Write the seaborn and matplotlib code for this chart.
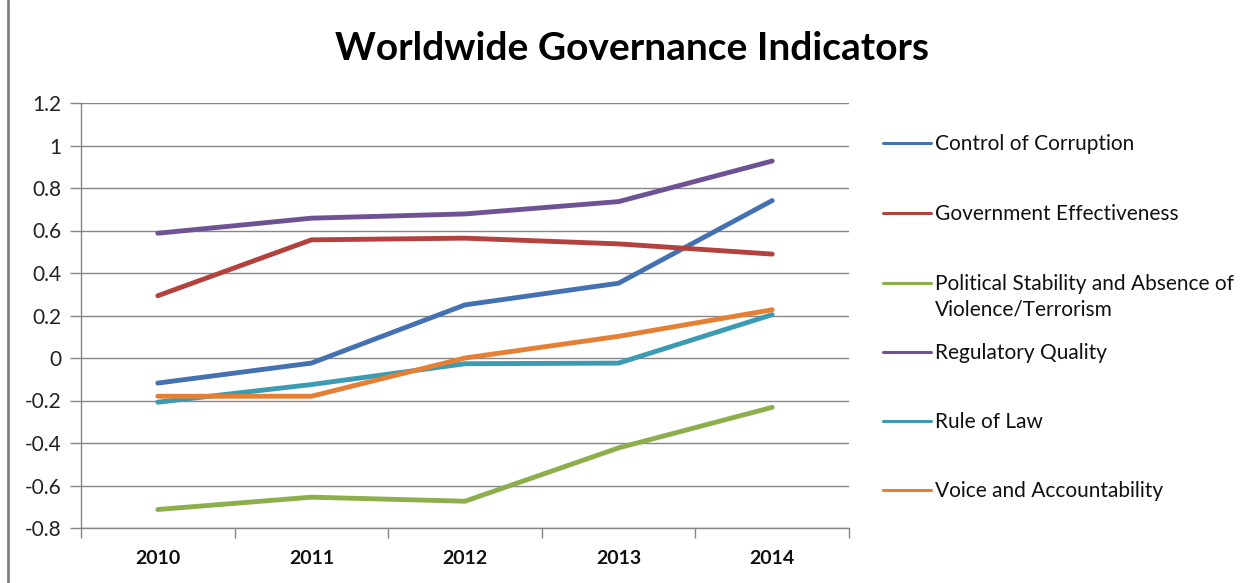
import matplotlib
matplotlib.use("Agg")
import matplotlib.pyplot as plt
from matplotlib.lines import Line2D
import seaborn as sns
import pandas as pd

years = ["2010", "2011", "2012", "2013", "2014"]
indicators = [
    "Control of Corruption",
    "Government Effectiveness",
    "Political Stability and Absence of\nViolence/Terrorism",
    "Regulatory Quality",
    "Rule of Law",
    "Voice and Accountability",
]
control_of_corruption = [-0.118, -0.024, 0.25, 0.352, 0.741]
government_effectiveness = [0.293, 0.556, 0.564, 0.537, 0.489]
political_stability = [-0.713, -0.655, -0.674, -0.423, -0.232]
regulatory_quality = [0.587, 0.658, 0.678, 0.736, 0.927]
rule_of_law = [-0.208, -0.125, -0.027, -0.024, 0.204]
voice_accountability = [-0.18, -0.18, 0.0, 0.102, 0.227]
y_ticks = [-0.8, -0.6, -0.4, -0.2, 0, 0.2, 0.4, 0.6, 0.8, 1, 1.2]
y_tick_labels = ["-0.8", "-0.6", "-0.4", "-0.2", "0", "0.2", "0.4", "0.6", "0.8", "1", "1.2"]

series = [control_of_corruption, government_effectiveness, political_stability,
          regulatory_quality, rule_of_law, voice_accountability]
colors = ["#4472B0", "#B3423F", "#8CAF4B", "#6F5293", "#3B9BB3", "#E47F33"]

rows = []
for name, vals in zip(indicators, series):
    for i, v in enumerate(vals):
        rows.append({"Indicator": name, "xi": i, "value": v})
df = pd.DataFrame(rows)

sns.set_theme(style="white")
plt.rcParams["font.family"] = ["Lato", "DejaVu Sans"]

fig = plt.figure(figsize=(12.55, 5.83), dpi=100)
ax = fig.add_axes([81 / 1255, 1 - 528 / 583, (849 - 81) / 1255, (528 - 103) / 583])

sns.lineplot(data=df, x="xi", y="value", hue="Indicator", hue_order=indicators,
             palette=colors, linewidth=3.5, ax=ax, legend=False)

ax.set_xlim(-0.5, 4.5)
ax.set_ylim(-0.8, 1.2)
ax.set_yticks(y_ticks)
ax.set_yticklabels(y_tick_labels, fontsize=15, color="#222222")
ax.set_xticks(range(len(years)))
ax.set_xticklabels(years, fontsize=14, fontweight="bold", color="#111111")
ax.tick_params(axis="x", length=0, pad=16)
ax.tick_params(axis="y", length=8, width=1, color="#868686", pad=6, left=True)
ax.set_xticks([-0.5, 0.5, 1.5, 2.5, 3.5, 4.5], minor=True)
ax.tick_params(axis="x", which="minor", length=7, width=1, color="#868686", bottom=True)
ax.grid(axis="y", color="#868686", linewidth=1)
ax.set_axisbelow(True)
ax.set_xlabel("")
ax.set_ylabel("")
for s in ["top", "right"]:
    ax.spines[s].set_visible(False)
for s in ["left", "bottom"]:
    ax.spines[s].set_color("#868686")
    ax.spines[s].set_linewidth(1)

fig.text(632 / 1255, 1 - 49 / 583, "Worldwide Governance Indicators",
         ha="center", va="center", fontsize=28, fontweight="bold", color="#000000")

# Legend
leg_y = [143, 213, 283, 352, 421, 490]
for name, col, yy in zip(indicators, colors, leg_y):
    yf = 1 - yy / 583
    fig.add_artist(Line2D([883 / 1255, 931 / 1255], [yf, yf], color=col, linewidth=2.2,
                          transform=fig.transFigure))
    fig.text(935 / 1255, yf + 0.0155, name, ha="left", va="top", fontsize=15,
             color="#111111", linespacing=1.35)

# left border of chart area
fig.add_artist(Line2D([8 / 1255, 8 / 1255], [0, 1], color="#808080", linewidth=2,
                      transform=fig.transFigure))

fig.savefig("out.png", dpi=100)
